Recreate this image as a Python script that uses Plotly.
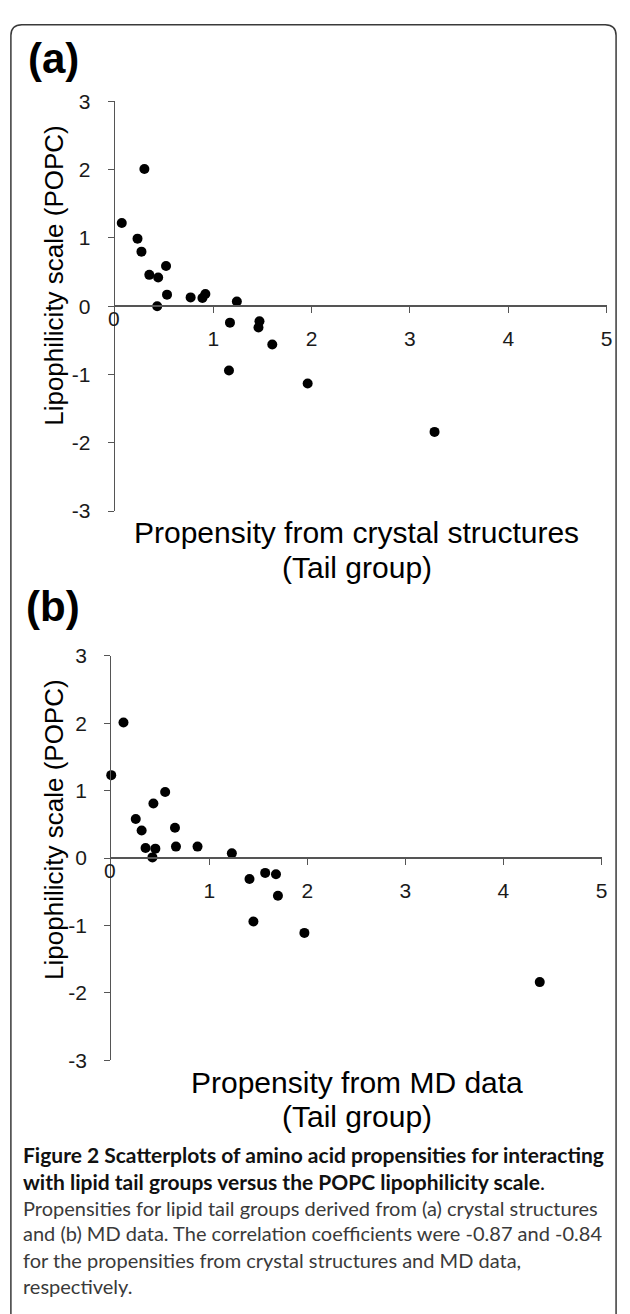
import plotly.graph_objects as go

W, H = 630, 1314

# ---- data ----
crystal_x = [0.30, 0.07, 0.23, 0.27, 0.35, 0.44, 0.52, 0.53, 0.43, 0.77,
             0.89, 0.92, 1.24, 1.17, 1.47, 1.46, 1.60, 1.16, 1.96, 3.25]
crystal_y = [2.01, 1.22, 0.99, 0.80, 0.46, 0.42, 0.59, 0.17, 0.00, 0.13,
             0.12, 0.18, 0.07, -0.24, -0.22, -0.31, -0.56, -0.94, -1.13, -1.84]

md_x = [0.125, 0.00, 0.55, 0.43, 0.25, 0.31, 0.65, 0.35, 0.45, 0.42,
        0.66, 0.88, 1.23, 1.41, 1.57, 1.68, 1.70, 1.45, 1.97, 4.37]
md_y = [2.01, 1.23, 0.98, 0.81, 0.58, 0.41, 0.45, 0.15, 0.14, 0.01,
        0.17, 0.17, 0.07, -0.31, -0.22, -0.24, -0.56, -0.94, -1.11, -1.84]

x_ticks = [1, 2, 3, 4, 5]
y_ticks = [-3, -2, -1, 0, 1, 2, 3]
y_tick_text = ["-3", "-2", "-1", "0", "1", "2", "3"]
x_range = [0, 5]
y_range = [-3, 3]

panel_labels = ["(a)", "(b)"]
x_titles = ["Propensity from crystal structures", "Propensity from MD data"]
x_title_line2 = "(Tail group)"
y_title = "Lipophilicity scale (POPC)"

caption_lines = [
    "<b>Figure 2 Scatterplots of amino acid propensities for interacting</b>",
    "<b>with lipid tail groups versus the POPC lipophilicity scale</b>.",
    "Propensities for lipid tail groups derived from (a) crystal structures",
    "and (b) MD data. The correlation coefficients were -0.87 and -0.84",
    "for the propensities from crystal structures and MD data,",
    "respectively.",
]

FONT = "Arial, 'Liberation Sans', sans-serif"
CAP_FONT = "Lato, 'Open Sans', sans-serif"


def px_x(p):
    return p / W


def px_y(p):
    return 1 - p / H


fig = go.Figure()

fig.add_trace(go.Scatter(x=crystal_x, y=crystal_y, mode="markers",
                         marker=dict(size=10, color="black"),
                         xaxis="x", yaxis="y", cliponaxis=False, showlegend=False))
fig.add_trace(go.Scatter(x=md_x, y=md_y, mode="markers",
                         marker=dict(size=10, color="black"),
                         xaxis="x2", yaxis="y2", cliponaxis=False, showlegend=False))

# panel geometry in pixels
panels = [
    dict(x0=116, x1=612.5, ytop=91, ybot=508, yzero=299.5),
    dict(x0=112.3, x1=607.3, ytop=655.3, ybot=1067, yzero=861),
]

axis_color = "#555555"
tick_font = dict(family=FONT, size=21, color="#1a1a1a")

layout = dict(
    width=W, height=H,
    margin=dict(l=0, r=0, t=0, b=0),
    paper_bgcolor="white", plot_bgcolor="white",
    showlegend=False,
)

for i, p in enumerate(panels):
    sx = "" if i == 0 else "2"
    xa = dict(
        domain=[px_x(p["x0"]), px_x(p["x1"])],
        range=x_range, tickvals=x_ticks,
        anchor="free", position=px_y(p["yzero"]),
        showline=True, linecolor=axis_color, linewidth=2,
        ticks="outside", ticklen=6, tickwidth=1.3, tickcolor=axis_color,
        showgrid=False, zeroline=False,
        tickfont=tick_font, ticklabelstandoff=8,
    )
    ya = dict(
        domain=[px_y(p["ybot"]), px_y(p["ytop"])],
        range=y_range, tickvals=y_ticks, ticktext=y_tick_text,
        anchor="x" + sx,
        showline=True, linecolor=axis_color, linewidth=1.3,
        ticks="outside", ticklen=6, tickwidth=1.3, tickcolor=axis_color,
        showgrid=False, zeroline=False,
        tickfont=tick_font, ticklabelstandoff=13,
    )
    layout["xaxis" + sx] = xa
    layout["yaxis" + sx] = ya

fig.update_layout(**layout)

ann = []
# "0" label on the x axis (sits close to the axis crossing)
for i in range(2):
    sx = "" if i == 0 else "2"
    ann.append(dict(x=0, y=0, xref="x" + sx, yref="y" + sx, text="0",
                    showarrow=False, yshift=-12, xshift=-1,
                    font=tick_font))

# panel labels
label_pos = [(54, 47), (54, 605)]
for lab, (lx, ly) in zip(panel_labels, label_pos):
    ann.append(dict(x=px_x(lx), y=px_y(ly), xref="paper", yref="paper",
                    text="<b>" + lab + "</b>", showarrow=False,
                    font=dict(family=FONT, size=42, color="black"),
                    xanchor="center", yanchor="middle"))

# y titles
for yc in [268, 832]:
    ann.append(dict(x=px_x(55), y=px_y(yc), xref="paper", yref="paper",
                    text=y_title, textangle=-90, showarrow=False,
                    font=dict(family=FONT, size=26, color="black"),
                    xanchor="center", yanchor="middle"))

# x titles
xt_pos = [(360, 530, 565), (360, 1090, 1124)]
for t, (cx, y1, y2) in zip(x_titles, xt_pos):
    for txt, yy in [(t, y1), (x_title_line2, y2)]:
        ann.append(dict(x=px_x(cx), y=px_y(yy), xref="paper", yref="paper",
                        text=txt, showarrow=False,
                        font=dict(family=FONT, size=30, color="black"),
                        xanchor="center", yanchor="middle"))

# caption
cap_y = [1163, 1190, 1217, 1243, 1270, 1297]
for i, (line, yy) in enumerate(zip(caption_lines, cap_y)):
    ann.append(dict(x=px_x(21), y=px_y(yy), xref="paper", yref="paper",
                    text=line, showarrow=False,
                    font=dict(family=CAP_FONT, size=21 if i < 2 else 20,
                              color="#111111" if i < 2 else "#3a3a3a"),
                    xanchor="left", yanchor="middle"))

fig.update_layout(annotations=ann)

# rounded frame around the figure (open at the bottom, as in the reference)
r = 11
x0f, x1f, y0f, y1f = 11, 622, 13, 1340
fig.add_shape(type="path", xref="paper", yref="paper",
              path=(f"M{x0f / W},{1 - y1f / H} L{x0f / W},{1 - (y0f + r) / H} "
                    f"Q{x0f / W},{1 - y0f / H} {(x0f + r) / W},{1 - y0f / H} "
                    f"L{(x1f - r) / W},{1 - y0f / H} "
                    f"Q{x1f / W},{1 - y0f / H} {x1f / W},{1 - (y0f + r) / H} "
                    f"L{x1f / W},{1 - y1f / H}"),
              line=dict(color="#3a3a3a", width=1.5))

fig.write_html("out.html", config={"displayModeBar": False},
               post_script="document.body.style.margin='0px';")
